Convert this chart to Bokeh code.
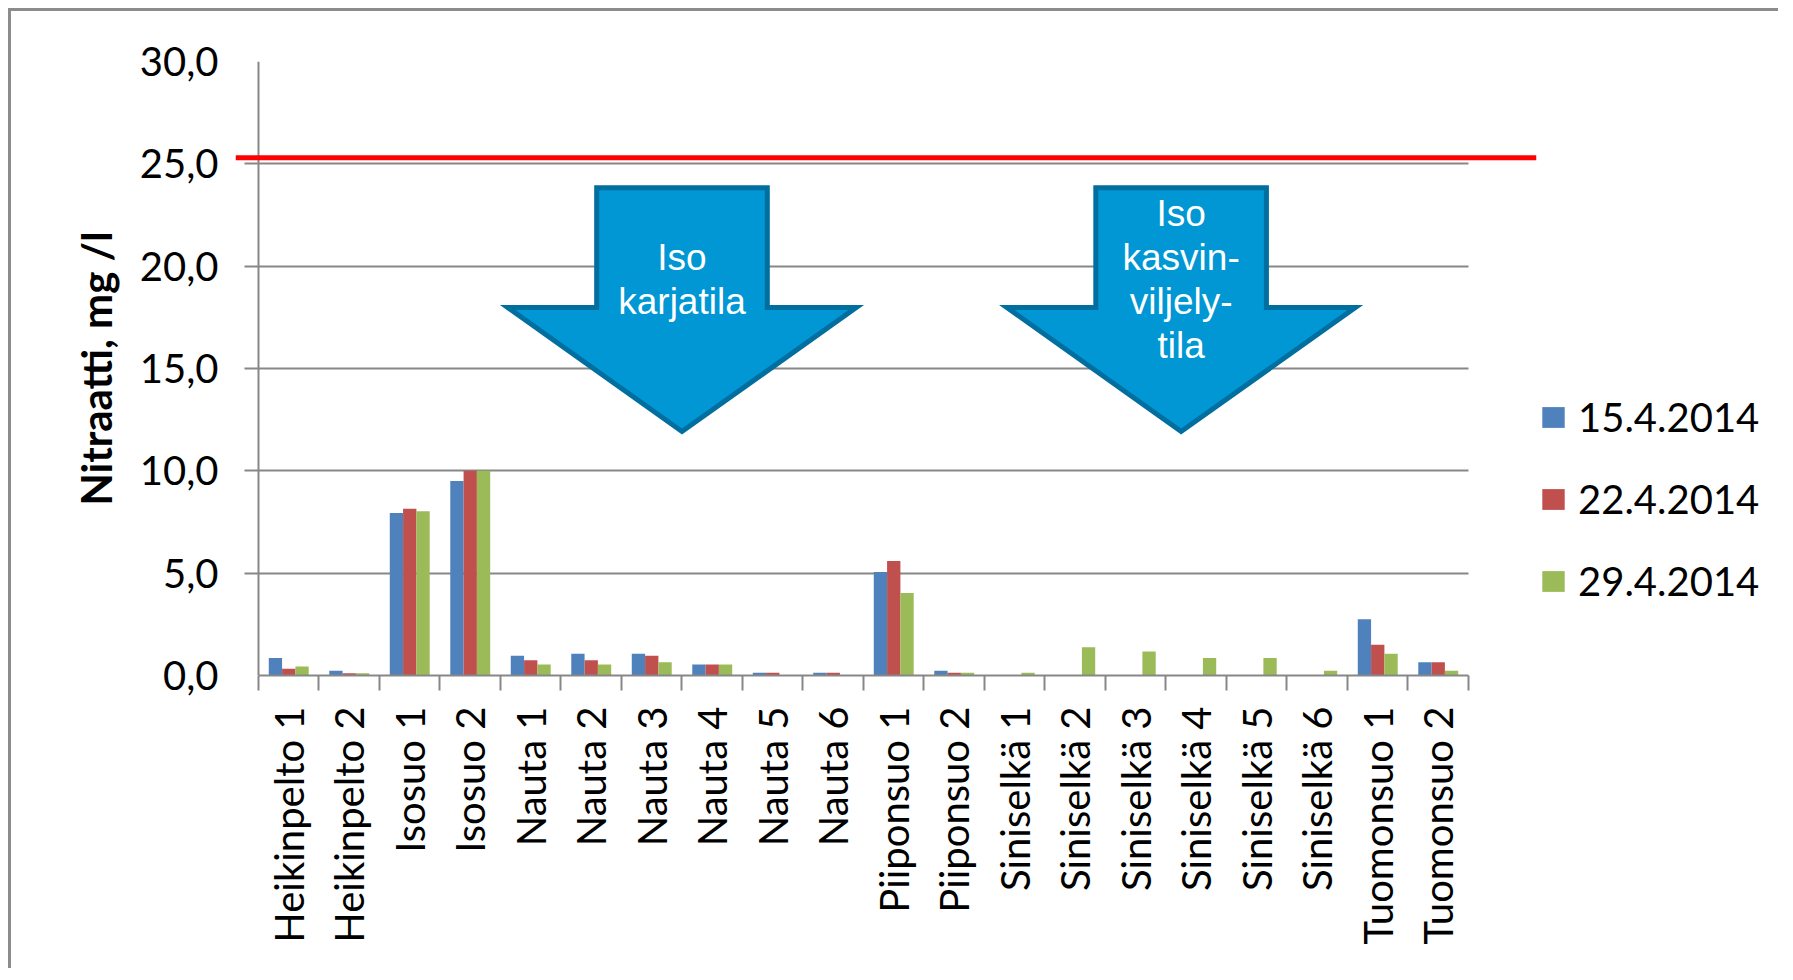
import math
from bokeh.plotting import figure
from bokeh.models import (ColumnDataSource, Range1d, LinearAxis, FixedTicker, Grid,
                          Legend, LegendItem)
from bokeh.core.properties import value
from bokeh.embed import file_html
from bokeh.resources import INLINE

# ---------------- data ----------------
categories = ["Heikinpelto 1", "Heikinpelto 2", "Isosuo 1", "Isosuo 2",
              "Nauta 1", "Nauta 2", "Nauta 3", "Nauta 4", "Nauta 5", "Nauta 6",
              "Piiponsuo 1", "Piiponsuo 2",
              "Siniselkä 1", "Siniselkä 2", "Siniselkä 3", "Siniselkä 4",
              "Siniselkä 5", "Siniselkä 6", "Tuomonsuo 1", "Tuomonsuo 2"]
dates = ["15.4.2014", "22.4.2014", "29.4.2014"]
nitrate_15_4 = [0.86, 0.23, 7.94, 9.50, 0.96, 1.06, 1.06, 0.54, 0.13, 0.13,
                5.06, 0.23, 0.0, 0.0, 0.0, 0.0, 0.0, 0.0, 2.75, 0.65]
nitrate_22_4 = [0.33, 0.11, 8.15, 10.0, 0.75, 0.75, 0.96, 0.54, 0.13, 0.13,
                5.60, 0.13, 0.0, 0.0, 0.0, 0.0, 0.0, 0.0, 1.50, 0.65]
nitrate_29_4 = [0.44, 0.11, 8.03, 10.0, 0.54, 0.54, 0.65, 0.54, 0.0, 0.0,
                4.03, 0.13, 0.13, 1.38, 1.17, 0.85, 0.85, 0.23, 1.06, 0.23]
y_ticks = [0, 5, 10, 15, 20, 25, 30]
y_tick_labels = ["0,0", "5,0", "10,0", "15,0", "20,0", "25,0", "30,0"]
y_title = "Nitraatti, mg /l"
limit_value = 25.3
arrow_texts = ["Iso\nkarjatila", "Iso\nkasvin-\nviljely-\ntila"]
arrow_centers = [7.0, 15.25]

# ---------------- style ----------------
COLORS = ["#4F81BD", "#C0504D", "#9BBB59"]
GRAY = "#878787"
FONT = "Lato"

n = len(categories)
series = [nitrate_15_4, nitrate_22_4, nitrate_29_4]
offsets = [-0.22, 0.0, 0.22]
bar_w = 0.22
W, H = 1770, 960
MB_LEFT = 224
PX_PER_CAT = 60.5
x_start = -0.38
x_end = x_start + (W - MB_LEFT) / PX_PER_CAT
limit_extent = (-0.38, 21.12)
tick_len = 0.23  # outward y tick length, in category units

p = figure(width=W, height=H, output_backend="svg", toolbar_location=None,
           x_axis_type=None, y_axis_type=None,
           x_range=Range1d(x_start, x_end), y_range=Range1d(0, 30),
           min_border_left=MB_LEFT, min_border_right=0,
           min_border_top=50, min_border_bottom=296)
p.outline_line_color = None
p.background_fill_color = "white"
p.border_fill_color = "white"
try:
    p.styles = {"margin-left": "8px", "margin-top": "8px",
                "border-left": "3px solid #8c8c8c", "border-top": "3px solid #8c8c8c"}
except Exception:
    pass

# y axis (labels + title); its line and ticks are drawn at x = 0 below
yticker = FixedTicker(ticks=y_ticks, minor_ticks=[])
yaxis = LinearAxis(ticker=yticker,
                   major_label_overrides={t: l for t, l in zip(y_ticks, y_tick_labels)},
                   axis_label=y_title, axis_label_text_font=FONT,
                   axis_label_text_font_style="bold", axis_label_text_font_size="42px",
                   axis_label_text_color="black", axis_label_standoff=16,
                   major_label_text_font=FONT, major_label_text_font_size="40px",
                   major_label_text_color="black", major_label_standoff=17,
                   axis_line_color=None, major_tick_line_color=None,
                   major_tick_out=0, major_tick_in=0,
                   minor_tick_line_color=None)
p.add_layout(yaxis, "left")

# x axis: labels at category centres, tick marks at category boundaries
centers = [i + 0.5 for i in range(n)]
bounds_ticks = [i for i in range(n + 1)]
xticker = FixedTicker(ticks=centers, minor_ticks=bounds_ticks)
xaxis = LinearAxis(ticker=xticker,
                   major_label_overrides={c: name for c, name in zip(centers, categories)},
                   bounds=(0, n), major_label_orientation=math.pi / 2,
                   major_label_text_font=FONT, major_label_text_font_size="40px",
                   major_label_text_color="black", major_label_standoff=16,
                   axis_line_color=GRAY, axis_line_width=2,
                   major_tick_line_color=None, major_tick_out=0, major_tick_in=0,
                   minor_tick_line_color=GRAY, minor_tick_line_width=2,
                   minor_tick_out=15, minor_tick_in=0)
p.add_layout(xaxis, "below")

# horizontal grid lines (they also form the outward y tick marks)
grid = Grid(dimension=1, ticker=yticker, grid_line_color=GRAY, grid_line_width=2)
use_segments = False
try:
    grid.cross_bounds = (-tick_len, n)
except Exception:
    use_segments = True
if use_segments:
    p.segment(x0=[-tick_len] * len(y_ticks), x1=[n] * len(y_ticks), y0=y_ticks,
              y1=y_ticks, line_color=GRAY, line_width=2, level="underlay")
else:
    p.add_layout(grid, "center")

# vertical axis line at x = 0
p.segment(x0=[0], x1=[0], y0=[y_ticks[0]], y1=[y_ticks[-1]], line_color=GRAY,
          line_width=2, level="underlay")

# bars
items = []
for vals, off, col, lab in zip(series, offsets, COLORS, dates):
    src = ColumnDataSource(dict(x=[c + off for c in centers], top=vals))
    r = p.vbar(x="x", top="top", bottom=0, width=bar_w, source=src,
               fill_color=col, line_color=None)
    items.append(LegendItem(label=lab, renderers=[r]))

# limit line
p.segment(x0=[limit_extent[0]], x1=[limit_extent[1]], y0=[limit_value],
          y1=[limit_value], line_color="#FF0000", line_width=5)

# block arrows
shaft_half, head_half = 1.41, 2.88
top_y, neck_y, tip_y = 23.83, 17.98, 11.92
axs, ays = [], []
for c in arrow_centers:
    axs.append([c - shaft_half, c + shaft_half, c + shaft_half, c + head_half, c,
                c - head_half, c - shaft_half])
    ays.append([top_y, top_y, neck_y, neck_y, tip_y, neck_y, neck_y])
p.patches(axs, ays, fill_color="#0097D4", line_color="#006E9E", line_width=5,
          line_join="miter")
p.text(x=arrow_centers, y=[19.33, 19.35], text=arrow_texts, text_align="center",
       text_baseline="middle", text_color="white", text_font=value("Liberation Sans"),
       text_font_size="37px", text_line_height=1.07)

legend = Legend(items=items, location=(1304, 70), orientation="vertical",
                label_text_font=FONT, label_text_font_size="40px",
                label_text_color="black", glyph_width=28, glyph_height=26,
                label_standoff=11, spacing=34, padding=0, margin=0,
                border_line_color=None, background_fill_alpha=0)
p.add_layout(legend)

open("out.html", "w").write(file_html(p, INLINE))
